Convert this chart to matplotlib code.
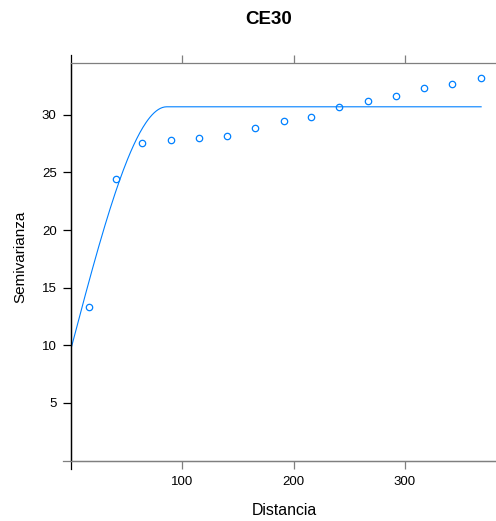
import numpy as np
import matplotlib.pyplot as plt
from matplotlib.lines import Line2D

plt.rcParams['font.family'] = ['Liberation Sans', 'DejaVu Sans']

# empirical semivariogram
dist = [16, 40, 64, 90, 115, 140, 165, 191, 216, 241, 267, 292, 317, 342, 368]
gamma = [13.3, 24.4, 27.6, 27.8, 28.0, 28.2, 28.9, 29.5, 29.8, 30.7, 31.2, 31.6, 32.3, 32.7, 33.2]

# fitted spherical model
nugget = 9.7
psill = 21.0
rng = 86.0
max_dist = 368.5

yticks = [5, 10, 15, 20, 25, 30]
xticks = [100, 200, 300]

blue = '#0080ff'
gray = '#7f7f7f'

h = np.linspace(0, max_dist, 400)
r = np.minimum(h / rng, 1.0)
model = nugget + psill * (1.5 * r - 0.5 * r ** 3)

fig = plt.figure(figsize=(4.96, 5.21), dpi=100)
W, H = 496, 521
left, right, bottom, top = 71, 496, 460.6, 63
ax = fig.add_axes([left / W, 1 - bottom / H, (right - left) / W, (bottom - top) / H])

ax.plot(h, model, color=blue, lw=0.8)
ax.plot(dist, gamma, 'o', mfc='none', mec=blue, ms=4.6, mew=0.9)

ax.set_xlim(0, (right - left) / 1.113)
ax.set_ylim(0, 34.5)

ax.spines['right'].set_visible(False)
ax.spines['left'].set_color('black')
ax.spines['top'].set_color(gray)
ax.spines['bottom'].set_color(gray)
for s in ['left', 'top', 'bottom']:
    ax.spines[s].set_linewidth(0.9)

ax.set_yticks(yticks)
ax.set_xticks(xticks)
ax.tick_params(axis='y', direction='out', length=5.8, width=0.9, color='black', labelsize=9.5, pad=4.5)
ax.tick_params(axis='x', direction='out', length=5.8, width=0.9, color=gray, labelsize=9.5, pad=5.5,
               top=True, labeltop=False)

# tick marks at the origin
tl = 8 / (bottom - top)
ax.add_line(Line2D([0, 0], [-tl, 1 + tl], transform=ax.transAxes, color='black', lw=0.9, clip_on=False))
tw = 8 / (right - left)
ax.add_line(Line2D([-tw, 1], [0, 0], transform=ax.transAxes, color=gray, lw=0.9, clip_on=False))

fig.text(284 / W, 1 - 515 / H, 'Distancia', ha='center', va='baseline', fontsize=11.4)
fig.text(20 / W, 1 - 256.5 / H, 'Semivarianza', ha='center', va='center', rotation=90, fontsize=11)
fig.text(269 / W, 1 - 24 / H, 'CE30', ha='center', va='baseline', fontsize=13.5, fontweight='bold')

fig.savefig('out.png', dpi=100)
